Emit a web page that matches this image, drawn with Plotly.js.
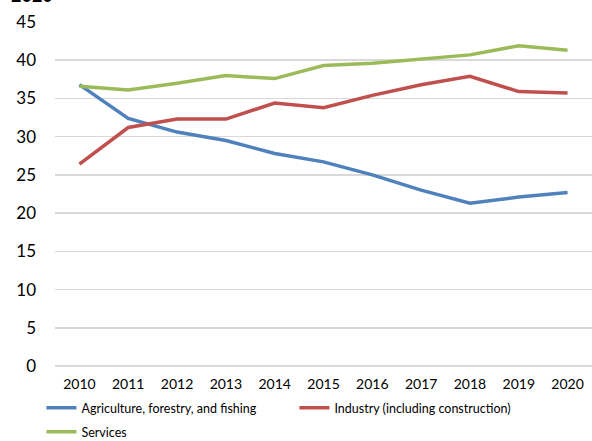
<!DOCTYPE html>
<html>
<head>
<meta charset="utf-8">
<script src="https://cdn.plot.ly/plotly-3.0.1.min.js"></script>
<style>html,body{margin:0;padding:0;background:#fff;}#chart{width:592px;height:441px;}</style>
</head>
<body>
<div id="chart"></div>
<script>
const years = [2010, 2011, 2012, 2013, 2014, 2015, 2016, 2017, 2018, 2019, 2020];
const agriculture = [36.8, 32.4, 30.6, 29.5, 27.8, 26.7, 25.0, 23.0, 21.3, 22.1, 22.7];
const industry = [26.4, 31.2, 32.3, 32.3, 34.4, 33.8, 35.4, 36.8, 37.9, 35.9, 35.7];
const services = [36.6, 36.1, 37.0, 38.0, 37.6, 39.3, 39.6, 40.2, 40.7, 41.9, 41.3];
const seriesNames = ["Agriculture, forestry, and fishing", "Industry (including construction)", "Services"];
const yTicks = [0, 5, 10, 15, 20, 25, 30, 35, 40, 45];

const font = "'Lato', 'DejaVu Sans', sans-serif";
const colors = ["#4F81BD", "#C0504D", "#9BBB59"];
const legendIds = ["legend", "legend", "legend2"];
const data = [agriculture, industry, services].map((vals, i) => ({
  x: years, y: vals, name: seriesNames[i], type: "scatter", mode: "lines",
  line: {color: colors[i], width: 3.5}, legend: legendIds[i]
}));

const legendBase = {
  orientation: "h", xref: "container", yref: "container", x: 0.07,
  xanchor: "left", yanchor: "middle", entrywidth: 208, entrywidthmode: "pixels",
  font: {size: 12.5, color: "#000"}, bgcolor: "rgba(0,0,0,0)"
};

const layout = {
  width: 592, height: 441,
  margin: {l: 55, r: 0, t: 22, b: 75},
  paper_bgcolor: "#fff", plot_bgcolor: "#fff",
  font: {family: font, color: "#000"},
  showlegend: true,
  xaxis: {
    type: "linear", range: [2009.5, 2020.5], tickvals: years, ticktext: years.map(String),
    showgrid: false, zeroline: false, showline: false,
    tickfont: {size: 14, color: "#000"}, ticks: "", ticklabelstandoff: 8
  },
  yaxis: {
    range: [0, 45], tickvals: yTicks, showgrid: true, gridcolor: "#D9D9D9", gridwidth: 1.5,
    zeroline: true, zerolinecolor: "#D9D9D9", zerolinewidth: 1.5, showline: false,
    tickfont: {size: 17, color: "#000"}, ticks: "", ticklabelstandoff: 18
  },
  legend: Object.assign({}, legendBase, {y: 1 - 408 / 441}),
  legend2: Object.assign({}, legendBase, {y: 1 - 432 / 441}),
  annotations: [{
    text: "<b>2020</b>", xref: "paper", yref: "paper", x: -0.085, y: 1.04,
    xanchor: "left", yanchor: "bottom", showarrow: false,
    font: {size: 18, color: "#000", family: font}
  }]
};

Plotly.newPlot("chart", data, layout, {displayModeBar: false, staticPlot: true});
</script>
</body>
</html>
